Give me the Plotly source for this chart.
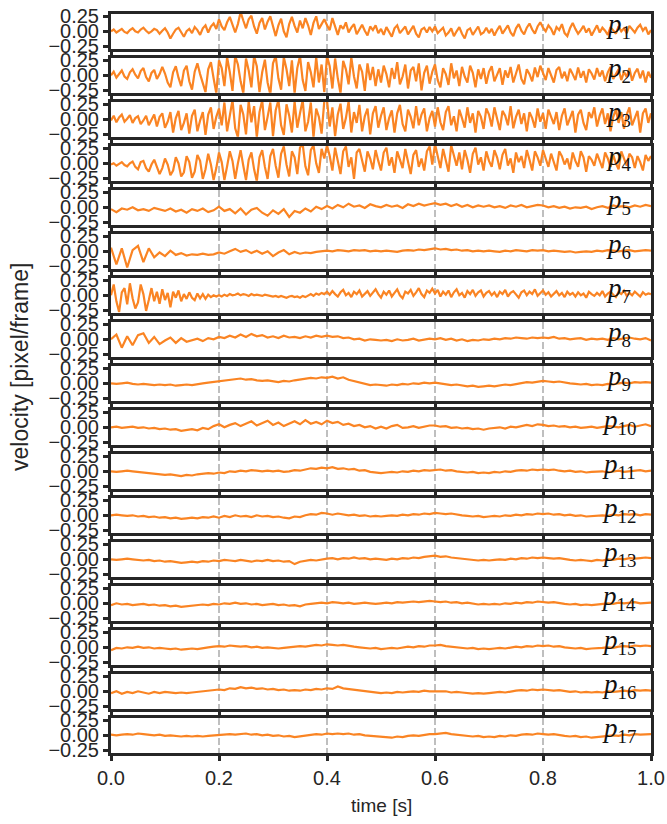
import numpy as np
import plotly.graph_objects as go

# ---------------- data (velocity in pixel/frame) ----------------
p1 = [0.00, 0.03, -0.02, 0.01, 0.04, -0.01, -0.03, 0.02, 0.05, 0.00, -0.02, 0.03, 0.06, 0.01, -0.03, 0.00, 0.04, 0.02, -0.04, 0.01,
      0.05, -0.02, -0.12, -0.04, 0.03, 0.06, -0.01, -0.09, 0.00, 0.04, -0.03, 0.07, 0.02, -0.06, 0.05, 0.10, -0.02, 0.08, 0.13, 0.04,
      0.20, 0.08, 0.02, 0.15, 0.24, 0.10, -0.02, 0.12, 0.32, 0.18, 0.05, 0.20, 0.26, 0.08, -0.04, 0.14, 0.22, 0.03, 0.16, 0.25,
      0.06, -0.08, 0.10, 0.21, 0.00, -0.10, 0.12, 0.24, 0.09, -0.02, 0.18, 0.05, 0.22, 0.10, -0.06, 0.14, 0.25, 0.04, 0.12, 0.20,
      0.10, 0.02, 0.22, 0.08, -0.06, 0.10, 0.04, 0.15, -0.02, 0.06, 0.12, -0.05, 0.03, 0.11, 0.01, -0.07, 0.08, 0.02, 0.10, -0.03,
      0.04, -0.06, 0.07, 0.00, -0.09, 0.05, 0.10, -0.03, 0.02, 0.08, -0.05, 0.01, 0.09, -0.04, -0.10, 0.03, 0.06, -0.02, 0.07, 0.00,
      0.08, -0.03, 0.02, 0.06, -0.07, -0.02, 0.05, -0.08, 0.00, 0.07, -0.04, -0.12, 0.02, 0.05, -0.06, 0.01, 0.08, -0.05, -0.02, 0.06,
      -0.03, 0.04, -0.07, 0.02, 0.09, -0.04, 0.03, 0.10, -0.02, -0.08, 0.05, 0.12, 0.01, -0.05, 0.06, 0.13, 0.03, -0.04, 0.08, 0.15,
      0.06, 0.00, 0.10, 0.04, -0.06, 0.07, 0.02, 0.12, -0.03, -0.08, 0.05, 0.14, 0.04, -0.04, 0.02, 0.09, -0.02, 0.05, -0.07, 0.03,
      0.10, -0.02, 0.06, 0.01, -0.06, 0.07, 0.02, -0.04, 0.08, 0.00, 0.05, -0.03, 0.09, 0.03, -0.02, 0.06, 0.11, 0.01, 0.07, -0.05,
      0.02]

p2 = [0.00, 0.06, -0.04, 0.02, 0.08, -0.02, -0.06, 0.05, 0.10, 0.01, -0.05, 0.07, 0.12, -0.03, -0.10, 0.04, 0.09, -0.06, 0.02, 0.14,
      0.03, -0.12, -0.20, 0.05, 0.15, -0.04, -0.18, 0.08, 0.16, -0.10, -0.24, 0.06, 0.20, 0.02, -0.15, -0.28, 0.10, 0.22, -0.05, -0.30,
      0.25, 0.12, -0.18, 0.30, 0.05, -0.26, 0.32, 0.18, -0.10, -0.30, 0.28, 0.08, -0.20, 0.32, 0.15, -0.28, 0.05, 0.26, -0.12, -0.32,
      0.20, 0.32, -0.05, -0.24, 0.30, 0.10, -0.18, 0.25, -0.30, 0.12, 0.32, -0.08, -0.26, 0.22, 0.05, -0.20, 0.30, -0.12, 0.18, -0.28,
      0.32, 0.15, -0.22, 0.28, -0.05, -0.30, 0.24, 0.10, -0.15, 0.30, -0.02, -0.22, 0.18, 0.06, -0.26, 0.20, -0.08, 0.14, -0.18, 0.10,
      -0.12, 0.16, 0.02, -0.20, 0.12, -0.06, 0.22, -0.15, -0.02, 0.18, -0.22, 0.08, 0.14, -0.10, 0.20, -0.25, 0.04, 0.16, -0.14, 0.06,
      0.18, -0.08, -0.20, 0.12, 0.02, -0.16, 0.20, -0.05, 0.08, -0.18, 0.14, -0.02, -0.12, 0.16, 0.04, -0.20, 0.10, -0.06, 0.12, -0.14,
      0.06, 0.15, -0.10, 0.02, 0.12, -0.16, 0.08, -0.04, 0.14, -0.12, 0.05, 0.18, -0.06, -0.15, 0.10, 0.02, -0.10, 0.13, -0.03, 0.16,
      0.04, -0.08, 0.12, 0.00, -0.12, 0.09, 0.14, -0.05, 0.06, -0.10, 0.11, 0.02, -0.08, 0.13, -0.04, 0.07, -0.12, 0.10, 0.03, -0.07,
      0.12, -0.02, 0.08, -0.10, 0.05, 0.14, -0.06, 0.02, 0.10, -0.08, 0.06, -0.03, 0.12, -0.09, 0.04, 0.11, -0.05, 0.08, -0.12, 0.06,
      -0.04]

p3 = [-0.02, 0.06, -0.05, 0.03, 0.08, -0.04, 0.01, 0.07, -0.06, 0.02, 0.05, -0.08, -0.02, 0.06, -0.10, 0.00, 0.08, -0.12, 0.04, 0.10,
      -0.14, -0.04, 0.12, -0.22, 0.02, 0.14, -0.18, -0.06, 0.10, -0.24, 0.06, 0.16, -0.20, -0.02, 0.12, -0.26, 0.08, 0.20, -0.16, 0.04,
      0.18, -0.10, 0.28, -0.20, 0.06, 0.32, -0.15, -0.30, 0.24, 0.08, -0.25, 0.30, -0.05, 0.22, -0.30, 0.12, 0.32, -0.18, 0.04, 0.28,
      -0.28, 0.15, 0.32, -0.10, -0.26, 0.25, 0.06, -0.22, 0.30, -0.14, 0.10, 0.32, -0.20, -0.04, 0.28, -0.30, 0.18, 0.04, -0.24, 0.30,
      0.32, -0.12, 0.20, -0.28, 0.08, 0.26, -0.16, 0.02, 0.30, -0.22, 0.12, -0.06, 0.24, -0.20, 0.05, 0.18, -0.25, 0.10, 0.22, -0.14,
      0.06, 0.20, -0.18, 0.02, 0.15, -0.22, 0.10, 0.24, -0.08, -0.20, 0.16, 0.04, -0.15, 0.22, -0.10, 0.08, 0.18, -0.20, 0.02, 0.14,
      -0.12, 0.20, -0.05, -0.18, 0.12, 0.22, -0.10, 0.05, -0.20, 0.16, 0.02, -0.14, 0.20, -0.06, 0.10, -0.22, 0.14, 0.04, -0.16, 0.18,
      0.08, -0.12, 0.20, -0.02, -0.18, 0.14, 0.06, -0.10, 0.22, -0.15, 0.04, 0.16, -0.08, 0.10, -0.20, 0.12, 0.02, -0.14, 0.18, -0.04,
      0.10, -0.16, 0.16, 0.04, -0.08, 0.12, -0.18, 0.06, 0.18, -0.10, 0.02, 0.14, -0.22, 0.08, 0.16, -0.06, -0.18, 0.12, 0.02, 0.20,
      -0.12, 0.06, 0.18, -0.08, 0.10, -0.20, 0.04, 0.16, -0.06, 0.12, -0.16, 0.08, 0.20, -0.10, 0.02, 0.14, -0.22, 0.10, 0.18, -0.06,
      0.10]

p4 = [-0.02, 0.00, -0.04, -0.01, 0.02, -0.03, -0.05, 0.00, 0.03, -0.06, -0.10, 0.02, 0.04, -0.08, -0.14, -0.02, 0.06, -0.06, -0.18, -0.08,
      0.08, -0.02, -0.20, -0.12, 0.10, 0.00, -0.22, -0.15, 0.12, 0.02, -0.24, -0.14, 0.14, 0.04, -0.26, -0.10, 0.16, -0.02, -0.28, -0.08,
      0.18, 0.02, -0.28, -0.05, 0.20, 0.04, -0.26, 0.00, 0.22, -0.04, -0.28, 0.06, 0.18, -0.10, -0.30, 0.10, 0.22, -0.06, -0.26, 0.12,
      0.24, -0.04, -0.24, 0.16, 0.28, -0.02, -0.22, 0.20, 0.10, -0.18, 0.26, 0.32, -0.05, -0.20, 0.22, 0.30, 0.00, -0.16, 0.24, 0.08,
      0.30, 0.12, -0.12, 0.26, 0.04, -0.18, 0.20, 0.28, -0.06, 0.10, -0.26, 0.18, 0.24, 0.02, -0.14, 0.20, 0.08, -0.10, 0.22, 0.04,
      -0.12, 0.18, 0.26, -0.04, 0.10, -0.16, 0.20, 0.06, -0.08, 0.24, 0.02, -0.18, 0.14, 0.22, -0.06, 0.08, -0.12, 0.20, 0.28, -0.02,
      0.32, 0.10, -0.08, 0.24, 0.04, -0.14, 0.30, 0.12, -0.04, 0.18, -0.10, 0.22, 0.06, -0.16, 0.16, 0.26, -0.02, 0.10, -0.12, 0.20,
      0.04, -0.06, 0.22, 0.10, -0.10, 0.14, 0.24, -0.04, 0.08, -0.16, 0.18, 0.02, 0.12, -0.08, 0.22, 0.06, -0.12, 0.20, 0.10, -0.04,
      0.22, 0.08, -0.06, 0.16, 0.02, -0.12, 0.20, 0.12, -0.02, 0.08, -0.10, 0.18, 0.04, -0.06, 0.20, 0.10, -0.14, 0.12, 0.06, -0.04,
      0.16, 0.02, -0.08, 0.18, 0.08, -0.06, 0.14, 0.00, -0.10, 0.20, 0.06, -0.04, 0.16, 0.10, -0.08, 0.12, 0.02, -0.12, 0.14, 0.04,
      0.12]

p5 = [-0.03, -0.08, -0.02, -0.04, 0.00, -0.05, -0.03, -0.06, -0.01, -0.04,
      -0.06, -0.02, -0.07, -0.04, -0.09, -0.03, -0.06, -0.02, -0.08, -0.05,
      0.01, -0.06, -0.03, -0.10, -0.02, -0.12, -0.04, -0.01, -0.09, -0.14,
      -0.05, -0.11, -0.03, -0.16, -0.06, -0.09, -0.02, -0.07, 0.01, -0.03,
      0.02, -0.02, 0.04, 0.00, 0.06, 0.01, 0.03, -0.01, 0.05, 0.02,
      0.00, 0.04, 0.01, 0.03, -0.01, 0.05, 0.02, 0.06, 0.03, 0.05,
      0.07, 0.04, 0.06, 0.02, 0.05, 0.01, 0.04, 0.00, 0.03, 0.01,
      0.03, 0.00, 0.02, -0.01, 0.03, 0.01, 0.04, 0.00, 0.02, 0.04,
      0.03, 0.00, 0.02, -0.01, 0.01, -0.02, 0.00, -0.01, 0.01, -0.03,
      0.00, 0.02, -0.01, 0.03, 0.01, 0.02, 0.00, 0.03, 0.01, 0.04,
      0.02]

p6 = [0.06, -0.22, 0.05, -0.27, 0.02, 0.09, -0.18, 0.05, -0.10, -0.02,
      -0.08, 0.01, -0.06, -0.03, -0.07, -0.05, -0.06, -0.04, -0.06, -0.05,
      -0.02, -0.04, 0.00, 0.04, -0.01, 0.02, -0.03, 0.01, -0.04, 0.00,
      -0.08, -0.02, 0.02, -0.05, -0.01, -0.04, -0.02, -0.03, -0.01, 0.00,
      0.01, 0.00, 0.02, 0.01, 0.00, 0.02, 0.01, 0.02, 0.00, 0.01,
      0.00, 0.01, 0.00, -0.01, 0.01, 0.02, 0.01, 0.03, 0.02, 0.04,
      0.05, 0.03, 0.04, 0.02, 0.03, 0.01, 0.02, 0.00, 0.01, 0.00,
      0.01, 0.00, -0.01, 0.01, 0.00, 0.02, 0.01, 0.00, 0.02, 0.01,
      0.02, 0.00, 0.01, 0.00, -0.01, 0.00, -0.02, -0.01, 0.00, -0.01,
      0.01, 0.00, 0.02, 0.01, 0.00, 0.01, 0.02, 0.00, 0.01, 0.02,
      0.01]

p7 = [0.00, 0.18, -0.10, -0.28, 0.05, 0.12, -0.15, 0.20, -0.05, -0.22, -0.12, 0.18, 0.02, -0.26, -0.08, 0.12, -0.10, 0.06, -0.14, 0.10,
      -0.08, 0.04, -0.20, 0.06, -0.04, 0.08, -0.10, 0.02, -0.06, 0.05, -0.04, -0.08, 0.03, -0.05, 0.02, -0.06, 0.01, -0.03, 0.00, -0.02,
      0.00, -0.02, 0.01, -0.01, 0.02, 0.00, 0.01, 0.03, 0.00, 0.02, 0.01, -0.01, 0.02, 0.00, 0.01, 0.00, -0.01, 0.01, 0.00, -0.01,
      -0.02, -0.01, -0.03, -0.01, -0.02, -0.04, -0.02, -0.01, -0.03, -0.02, -0.04, -0.01, -0.03, 0.00, 0.02, -0.01, 0.03, 0.01, 0.04, 0.02,
      0.06, 0.01, 0.07, 0.02, -0.02, 0.05, 0.09, 0.00, 0.04, -0.03, 0.06, 0.02, 0.08, -0.02, 0.03, 0.07, -0.01, 0.05, 0.10, 0.02,
      -0.04, 0.06, 0.01, 0.08, -0.02, 0.04, 0.10, 0.00, -0.05, 0.06, 0.03, 0.09, -0.01, 0.05, 0.12, 0.02, -0.03, 0.08, 0.04, 0.11,
      0.03, 0.09, -0.02, 0.06, 0.01, 0.08, -0.03, 0.05, 0.10, 0.00, 0.04, -0.04, 0.07, 0.02, 0.09, -0.01, 0.05, 0.08, -0.02, 0.04,
      0.07, 0.00, 0.05, -0.03, 0.06, 0.02, 0.09, -0.02, 0.04, 0.07, 0.01, -0.04, 0.05, 0.08, 0.00, 0.06, 0.02, 0.10, -0.01, 0.04,
      0.08, 0.01, 0.05, -0.02, 0.03, 0.07, 0.00, 0.04, -0.03, 0.06, 0.01, 0.04, -0.02, 0.05, 0.00, 0.03, -0.04, 0.06, 0.02, -0.01,
      0.04, 0.00, 0.07, -0.02, 0.03, 0.06, 0.01, -0.03, 0.05, 0.02, 0.08, -0.01, 0.04, 0.00, 0.06, 0.02, -0.02, 0.05, 0.01, 0.03,
      0.02]

p8 = [0.00, 0.08, -0.14, 0.05, -0.10, 0.07, 0.10, -0.06, 0.04, -0.08,
      -0.02, 0.03, -0.06, 0.02, -0.04, -0.01, 0.01, -0.03, 0.02, 0.00,
      0.04, 0.02, 0.06, 0.03, 0.08, 0.04, 0.09, 0.05, 0.07, 0.03,
      0.05, 0.02, 0.06, 0.03, 0.04, 0.02, 0.05, 0.03, 0.06, 0.04,
      0.06, 0.04, 0.05, 0.02, 0.03, 0.00, 0.01, -0.02, 0.00, -0.01,
      -0.02, -0.01, -0.03, 0.00, -0.02, -0.01, 0.01, -0.02, 0.00, 0.01,
      0.00, 0.02, -0.01, 0.01, -0.02, 0.00, -0.03, -0.01, -0.02, 0.00,
      -0.01, 0.01, 0.00, 0.02, 0.01, 0.03, 0.02, 0.01, 0.03, 0.02,
      0.03, 0.02, 0.04, 0.01, 0.02, 0.00, 0.01, 0.02, -0.01, 0.01,
      0.00, 0.01, -0.01, 0.02, 0.00, 0.01, 0.03, 0.01, 0.00, 0.02,
      -0.02]

p9 = [0.00, -0.01, 0.00, 0.01, -0.01, -0.02, -0.01, -0.02, -0.03, -0.02,
      -0.03, -0.02, -0.04, -0.03, -0.02, -0.03, -0.01, 0.00, 0.01, 0.02,
      0.03, 0.04, 0.05, 0.07, 0.08, 0.06, 0.07, 0.05, 0.04, 0.05,
      0.03, 0.02, 0.04, 0.03, 0.05, 0.06, 0.07, 0.09, 0.08, 0.10,
      0.09, 0.11, 0.08, 0.10, 0.06, 0.04, 0.01, -0.01, -0.03, -0.02,
      -0.03, -0.04, -0.02, -0.03, -0.01, -0.02, 0.00, -0.01, 0.01, 0.00,
      0.01, 0.00, -0.01, -0.03, -0.02, -0.04, -0.05, -0.04, -0.06, -0.05,
      -0.04, -0.05, -0.03, -0.02, -0.03, -0.01, 0.00, 0.02, 0.01, 0.03,
      0.04, 0.03, 0.02, 0.03, 0.01, 0.00, -0.01, -0.02, -0.01, -0.03,
      -0.02, -0.03, -0.01, -0.02, 0.00, 0.01, 0.00, 0.02, 0.01, 0.02,
      0.01]

p10 = [0.00, 0.01, -0.01, 0.00, 0.01, -0.01, 0.00, -0.02, -0.01, -0.03,
       -0.02, -0.04, -0.03, -0.06, -0.04, -0.03, -0.05, -0.01, -0.03, 0.02,
       0.05, 0.00, 0.04, 0.07, 0.02, 0.06, 0.10, 0.03, 0.07, 0.11,
       0.04, 0.08, 0.02, 0.06, 0.10, 0.05, 0.12, 0.06, 0.09, 0.05,
       0.11, 0.07, 0.09, 0.04, 0.06, 0.02, 0.04, 0.00, 0.02, -0.02,
       0.01, -0.02, 0.02, 0.04, -0.01, 0.00, 0.02, -0.01, 0.01, 0.03,
       0.03, 0.01, 0.02, -0.01, 0.00, -0.02, -0.01, -0.03, -0.02, -0.04,
       -0.02, -0.01, 0.00, -0.02, 0.01, 0.00, 0.02, 0.04, 0.02, 0.05,
       0.04, 0.02, 0.03, 0.01, 0.02, 0.00, 0.01, -0.01, 0.00, 0.01,
       -0.01, 0.00, 0.02, 0.01, 0.00, 0.02, 0.04, 0.01, 0.03, 0.05,
       0.02]

p11 = [0.00, -0.01, 0.00, 0.01, 0.00, -0.01, -0.02, -0.03, -0.04, -0.05,
       -0.06, -0.05, -0.07, -0.08, -0.06, -0.07, -0.05, -0.04, -0.03, -0.04,
       -0.02, -0.03, 0.00, -0.01, 0.01, 0.00, 0.02, 0.01, 0.00, 0.01,
       0.00, 0.01, -0.01, 0.00, 0.02, 0.01, 0.03, 0.05, 0.04, 0.06,
       0.05, 0.07, 0.04, 0.05, 0.03, 0.04, 0.01, 0.02, -0.01, -0.02,
       -0.03, -0.02, -0.01, -0.02, 0.00, -0.01, 0.01, 0.00, 0.02, 0.01,
       0.02, 0.03, 0.01, 0.02, 0.00, -0.01, -0.02, -0.01, -0.03, -0.02,
       -0.03, -0.01, -0.02, 0.00, -0.01, 0.01, 0.02, 0.01, 0.03, 0.02,
       0.03, 0.02, 0.03, 0.01, 0.00, 0.01, -0.01, 0.00, -0.02, -0.01,
       -0.01, 0.00, -0.02, 0.00, 0.01, -0.01, 0.00, 0.01, 0.02, 0.00,
       0.01]

p12 = [0.00, 0.01, 0.00, -0.01, 0.00, -0.02, -0.01, -0.03, -0.02, -0.04,
       -0.03, -0.05, -0.04, -0.06, -0.05, -0.04, -0.05, -0.03, -0.04, -0.02,
       -0.04, -0.01, -0.03, 0.00, -0.02, -0.01, -0.03, 0.00, -0.02, -0.01,
       -0.03, -0.02, -0.04, -0.05, -0.02, -0.03, 0.00, 0.02, 0.01, 0.04,
       0.03, 0.01, 0.03, 0.02, 0.00, 0.01, -0.01, 0.00, -0.02, -0.01,
       -0.02, -0.01, 0.00, -0.01, 0.01, 0.00, 0.02, 0.01, 0.03, 0.02,
       0.04, 0.03, 0.02, 0.03, 0.01, 0.00, -0.01, -0.02, -0.01, -0.03,
       -0.02, -0.01, -0.02, 0.00, -0.01, 0.01, 0.00, 0.02, 0.01, 0.03,
       0.02, 0.03, 0.01, 0.02, 0.00, 0.01, -0.01, 0.00, -0.02, -0.01,
       -0.01, 0.00, -0.01, 0.01, 0.00, 0.02, 0.01, 0.02, 0.00, 0.02,
       0.01]

p13 = [0.00, -0.01, 0.00, 0.01, 0.00, -0.01, -0.02, -0.01, -0.03, -0.02,
       -0.04, -0.03, -0.05, -0.06, -0.05, -0.04, -0.05, -0.03, -0.04, -0.02,
       -0.03, -0.01, -0.02, -0.03, -0.01, -0.02, -0.04, -0.02, -0.03, -0.01,
       -0.03, -0.02, -0.04, -0.03, -0.08, -0.04, -0.03, -0.01, -0.02, 0.00,
       0.01, 0.02, 0.00, 0.02, 0.01, 0.03, 0.01, 0.02, 0.00, 0.01,
       0.00, -0.01, 0.01, 0.00, 0.02, 0.01, 0.03, 0.02, 0.04, 0.05,
       0.06, 0.04, 0.05, 0.03, 0.02, 0.01, 0.00, -0.01, -0.02, -0.01,
       -0.02, -0.01, 0.00, -0.01, 0.01, 0.00, 0.02, 0.01, 0.03, 0.02,
       0.03, 0.02, 0.01, 0.02, 0.00, -0.01, -0.02, -0.01, -0.02, -0.03,
       -0.01, -0.02, 0.00, -0.01, 0.01, 0.00, 0.02, 0.01, 0.02, 0.03,
       0.02]

p14 = [-0.03, 0.00, -0.02, -0.01, -0.03, -0.02, -0.01, -0.03, -0.02, -0.04,
       -0.03, -0.05, -0.04, -0.06, -0.05, -0.04, -0.03, -0.02, -0.03, -0.01,
       -0.02, 0.00, -0.01, 0.01, -0.01, 0.00, -0.02, -0.01, -0.03, -0.02,
       -0.01, -0.03, -0.02, -0.04, -0.03, -0.05, -0.02, -0.01, 0.00, 0.01,
       0.00, 0.02, 0.01, 0.00, 0.01, -0.01, 0.00, 0.01, 0.00, -0.01,
       0.00, 0.01, 0.00, 0.02, 0.01, 0.02, 0.03, 0.02, 0.03, 0.04,
       0.03, 0.02, 0.03, 0.01, 0.02, 0.00, 0.01, -0.01, -0.02, -0.01,
       -0.02, -0.01, -0.02, 0.00, -0.01, 0.01, 0.00, 0.02, 0.01, 0.03,
       0.02, 0.01, 0.02, 0.00, -0.01, -0.02, -0.01, -0.03, -0.02, -0.03,
       -0.02, -0.01, 0.00, -0.01, 0.01, 0.00, 0.01, 0.02, 0.00, 0.01,
       0.01]

p15 = [-0.05, -0.01, -0.02, 0.00, -0.01, 0.01, -0.01, 0.00, -0.02, -0.01,
       -0.02, -0.03, -0.02, -0.04, -0.03, -0.02, -0.03, -0.01, 0.00, 0.01,
       0.02, 0.01, 0.03, 0.02, 0.01, 0.02, 0.00, 0.01, -0.01, 0.00,
       -0.01, -0.02, -0.01, 0.00, 0.01, 0.02, 0.01, 0.03, 0.04, 0.03,
       0.05, 0.04, 0.03, 0.04, 0.02, 0.01, 0.00, -0.01, -0.02, -0.01,
       -0.03, -0.02, -0.01, -0.02, 0.00, 0.01, 0.00, 0.02, 0.01, 0.03,
       0.03, 0.04, 0.02, 0.01, 0.00, -0.01, -0.02, -0.01, -0.03, -0.02,
       -0.03, -0.02, -0.01, -0.02, 0.00, 0.01, 0.00, 0.02, 0.01, 0.03,
       0.02, 0.03, 0.01, 0.02, 0.00, -0.01, -0.02, -0.01, -0.03, -0.02,
       -0.02, -0.01, 0.00, -0.01, 0.01, 0.02, 0.01, 0.03, 0.02, 0.03,
       0.02]

p16 = [-0.03, 0.00, -0.04, -0.01, -0.03, 0.00, -0.02, -0.04, -0.01, -0.03,
       -0.01, -0.02, -0.03, -0.02, -0.03, -0.02, -0.01, 0.00, 0.01, 0.02,
       0.03, 0.02, 0.05, 0.04, 0.07, 0.05, 0.06, 0.04, 0.05, 0.03,
       0.04, 0.02, 0.03, 0.01, 0.02, 0.01, 0.03, 0.02, 0.04, 0.03,
       0.05, 0.04, 0.08, 0.05, 0.04, 0.02, 0.01, 0.00, -0.01, -0.02,
       -0.03, -0.02, -0.03, -0.01, -0.02, -0.01, 0.00, -0.01, 0.01, 0.00,
       0.00, -0.01, 0.00, -0.02, -0.01, -0.02, -0.03, -0.04, -0.03, -0.04,
       -0.03, -0.02, -0.01, -0.02, 0.00, 0.01, 0.02, 0.01, 0.03, 0.02,
       0.03, 0.02, 0.01, 0.02, 0.00, -0.01, 0.00, -0.02, -0.01, -0.02,
       -0.01, -0.02, 0.00, -0.01, 0.00, 0.01, 0.00, 0.02, 0.01, 0.02,
       0.01]

p17 = [0.01, 0.00, 0.01, 0.02, 0.01, 0.03, 0.02, 0.01, 0.00, 0.01,
       -0.01, 0.00, -0.01, -0.02, -0.01, -0.02, -0.01, -0.02, -0.01, 0.00,
       0.00, 0.01, 0.02, 0.01, 0.02, 0.03, 0.01, 0.02, 0.00, 0.01,
       -0.01, 0.00, -0.02, -0.01, -0.03, -0.02, -0.01, 0.01, 0.02, 0.01,
       0.03, 0.02, 0.03, 0.02, 0.03, 0.01, 0.02, 0.00, -0.01, -0.02,
       -0.02, -0.03, -0.04, -0.02, -0.03, -0.01, 0.00, -0.01, 0.01, 0.02,
       0.02, 0.03, 0.04, 0.02, 0.01, 0.00, -0.01, -0.02, -0.01, -0.03,
       -0.02, -0.03, -0.01, -0.02, 0.00, -0.01, 0.01, 0.02, 0.01, 0.03,
       0.02, 0.01, 0.02, 0.00, -0.01, -0.02, -0.01, -0.03, -0.02, -0.04,
       -0.03, -0.02, -0.01, 0.00, -0.01, 0.01, 0.00, 0.02, 0.01, 0.01,
       0.02]

series = [p1, p2, p3, p4, p5, p6, p7, p8, p9, p10, p11, p12, p13, p14, p15, p16, p17]
labels = [f"<i>p</i><sub>{k}</sub>" for k in range(1, 18)]
x_ticks = [0.0, 0.2, 0.4, 0.6, 0.8, 1.0]
x_ticktext = ["0.0", "0.2", "0.4", "0.6", "0.8", "1.0"]
y_ticks = [-0.25, 0.0, 0.25]
y_ticktext = ["\u22120.25", "0.00", "0.25"]

# ---------------- layout geometry ----------------
W, H = 667, 824
ML, MR, MT, MB = 111, 16, 10, 68
PH = H - MT - MB
TOP0, PITCH, PANEL_H, LW = 12.3, 44.0, 38.0, 3.0
PX_PER_UNIT = 60.0
yr = (PANEL_H - LW) / 2 / PX_PER_UNIT

ORANGE = "#fa8423"
DARK = "#262626"
SANS = "Liberation Sans, Arial, sans-serif"
TICKFONT = dict(family=SANS, size=20, color=DARK)

fig = go.Figure()
layout = {}
n = len(series)
for i, vals in enumerate(series):
    xid = "x" if i == 0 else f"x{i+1}"
    yid = "y" if i == 0 else f"y{i+1}"
    xa = "xaxis" if i == 0 else f"xaxis{i+1}"
    ya = "yaxis" if i == 0 else f"yaxis{i+1}"
    t = np.linspace(0.0, 1.0, len(vals))
    fig.add_trace(go.Scatter(x=t, y=vals, xaxis=xid, yaxis=yid, mode="lines",
                             line=dict(color=ORANGE, width=2.2), showlegend=False,
                             hoverinfo="skip"))
    top = TOP0 + PITCH * i + LW / 2
    bot = TOP0 + PITCH * i + PANEL_H - LW / 2
    dom = [1 - (bot - MT) / PH, 1 - (top - MT) / PH]
    layout[xa] = dict(domain=[0, 1], anchor=yid, range=[0, 1], automargin=False,
                      showline=True, mirror=True, linecolor=DARK, linewidth=LW,
                      ticks="outside", ticklen=5, tickwidth=2.5, tickcolor=DARK,
                      tickvals=x_ticks, ticktext=x_ticktext,
                      showticklabels=(i == n - 1), tickfont=TICKFONT,
                      showgrid=True, gridcolor="#bfbfbf", gridwidth=1.5,
                      griddash="7px,3px", zeroline=False)
    layout[ya] = dict(domain=dom, anchor=xid, range=[-yr, yr], automargin=False,
                      showline=True, mirror=True, linecolor=DARK, linewidth=LW,
                      ticks="outside", ticklen=5, tickwidth=2.5, tickcolor=DARK,
                      tickvals=y_ticks, ticktext=y_ticktext, tickfont=TICKFONT,
                      showgrid=False, zeroline=False)
    fig.add_annotation(text=labels[i], xref=f"{xid} domain", yref=f"{yid} domain",
                       x=0.94, y=0.66, xanchor="center", yanchor="middle",
                       showarrow=False,
                       font=dict(family="Liberation Serif, DejaVu Serif, serif", size=27, color="#111111"))

fig.add_annotation(text="velocity [pixel/frame]", xref="paper", yref="paper",
                   x=(20 - ML) / (W - ML - MR), y=1 - (367 - MT) / PH,
                   textangle=-90, showarrow=False, xanchor="center", yanchor="middle",
                   font=dict(family=SANS, size=23, color=DARK))
fig.add_annotation(text="time [s]", xref="paper", yref="paper",
                   x=0.5, y=1 - (805 - MT) / PH, showarrow=False,
                   xanchor="center", yanchor="middle",
                   font=dict(family=SANS, size=19, color=DARK))

fig.update_layout(width=W, height=H, margin=dict(l=ML, r=MR, t=MT, b=MB, autoexpand=False),
                  paper_bgcolor="white", plot_bgcolor="white", **layout)
fig.write_html("out.html", config={"displayModeBar": False},
               post_script="document.body.style.margin='0';document.body.style.padding='0';document.documentElement.style.overflow='hidden';")
